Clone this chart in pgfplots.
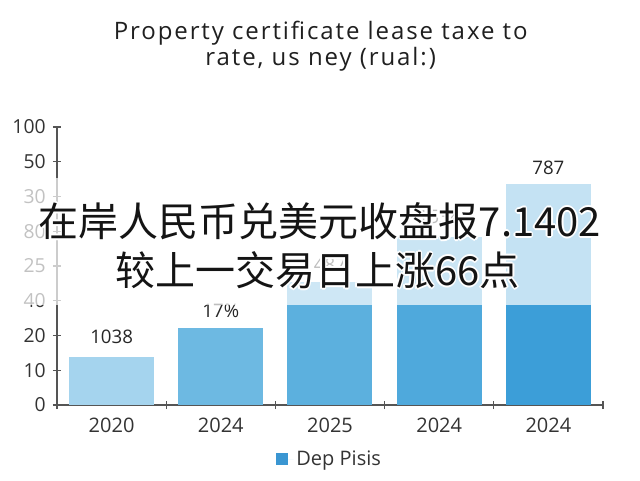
\documentclass[border=0pt]{standalone}
\usepackage{pgfplots}
\pgfplotsset{compat=1.18}
\usepackage{fontspec}
\setmainfont{Open Sans}
\newfontfamily\titlefont[LetterSpace=8]{Open Sans}
\newfontfamily\cjk{Noto Sans CJK SC}

\definecolor{barA}{HTML}{A5D4EE}
\definecolor{barB}{HTML}{6DB9E2}
\definecolor{barC}{HTML}{5CB0DE}
\definecolor{barD}{HTML}{4FA9DC}
\definecolor{barE}{HTML}{3C9ED8}
\definecolor{legblue}{HTML}{3A96D2}
\definecolor{axisgray}{HTML}{555555}
\definecolor{txt}{HTML}{333333}

% overlay line: white halo first, then the black text
\newcommand\haloline[2]{%
  \foreach \dx/\dy in {-1.3/0,1.3/0,0/-1.3,0/1.3,-0.9/-0.9,0.9/0.9,-0.9/0.9,0.9/-0.9}
    \node[text=white, xshift=\dx pt, yshift=\dy pt, font=\cjk\fontsize{30}{34}\selectfont] at (#1) {#2};
  \node[text=black!92, font=\cjk\fontsize{30}{34}\selectfont] at (#1) {#2};
}

\begin{document}
\begin{tikzpicture}
\path[use as bounding box] (0,0) rectangle (480pt,360pt);

\node[align=center, text=black!88, font=\titlefont\fontsize{18}{19.5}\selectfont] at (240.5pt,325pt)
  {Property certificate lease taxe to\\rate, us ney (rual:)};

\begin{axis}[
    at={(42.75pt,56.25pt)}, anchor=south west,
    scale only axis,
    width=409.5pt, height=208.5pt,
    xmin=-0.5, xmax=4.5,
    ymin=0, ymax=8,
    axis lines=left,
    axis line style={-, axisgray, line width=0.9pt},
    xtick={0,1,2,3,4},
    xticklabels={2020,2024,2025,2024,2024},
    minor xtick={-0.5,0.5,1.5,2.5,3.5,4.5},
    major x tick style={draw=none},
    minor x tick style={axisgray, line width=0.8pt},
    minor tick length=6pt,
    ytick={0,1,2,3,4,5,6,7,8},
    yticklabels={0,10,20,40,25,80,30,50,100},
    major tick length=6pt,
    tick align=center,
    y tick style={axisgray, line width=0.8pt},
    /pgf/number format/assume math mode=true,
    x tick label style={font=\fontsize{15}{17}\selectfont, text=txt, yshift=-3.5pt},
    y tick label style={font=\fontsize{14.5}{16}\selectfont, text=txt, xshift=-2pt},
    legend style={draw=none, fill=none, at={(0.5,-0.195)}, anchor=center,
        font=\fontsize{15}{17}\selectfont, text=txt},
    legend image code/.code={\path (0pt,0pt) -- (13pt,0pt);
        \fill[legblue] (0pt,-4.5pt) rectangle (9pt,4.5pt);},
    nodes near coords,
    point meta=explicit symbolic,
    nodes near coords style={font=\fontsize{14}{16}\selectfont, text=black!85, anchor=center},
]
\addplot[ybar, bar width=63.75pt, bar shift=0pt, fill=barA, draw=none,
    nodes near coords style={yshift=15pt}] coordinates {(0,1.38) [1038]};
\addplot[ybar, bar width=63.75pt, bar shift=0pt, fill=barB, draw=none,
    nodes near coords style={yshift=12.75pt}] coordinates {(1,2.22) [17\%]};
\addplot[ybar, bar width=63.75pt, bar shift=0pt, fill=barC, draw=none,
    nodes near coords style={yshift=12.75pt}] coordinates {(2,3.54) [487]};
\addplot[ybar, bar width=63.75pt, bar shift=0pt, fill=barD, draw=none,
    nodes near coords style={yshift=15pt}] coordinates {(3,4.83) [1534]};
\addplot[ybar, bar width=63.75pt, bar shift=0pt, fill=barE, draw=none,
    nodes near coords style={yshift=12pt}] coordinates {(4,6.36) [787]};
\addlegendimage{empty legend}
\legend{Dep Pisis}
\end{axis}

% translucent band behind the overlay text
\fill[white, opacity=0.7] (0pt,131.25pt) rectangle (480pt,226.5pt);

\haloline{240pt,194pt}{在岸人民币兑美元收盘报7.1402}
\haloline{238pt,157.5pt}{较上一交易日上涨66点}
\end{tikzpicture}
\end{document}
